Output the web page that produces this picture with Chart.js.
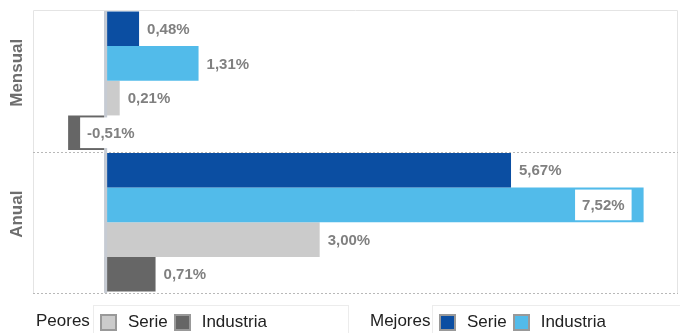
<!DOCTYPE html>
<html>
<head>
<meta charset="utf-8">
<script src="https://cdn.jsdelivr.net/npm/chart.js@4.4.0/dist/chart.umd.min.js"></script>
<style>
    body { margin: 0; background: #fff; font-family: "Liberation Sans", Arial, sans-serif; }
    #wrap { position: relative; width: 680px; height: 333px; overflow: hidden; }
    #chart { position: absolute; left: 0; top: 0; }
    .group-title { position: absolute; top: 311px; font-size: 17px; color: #222; line-height: 20px; }
    .panel { position: absolute; top: 305px; height: 40px; border: 1px solid #ececec; box-sizing: border-box; }
    .items { display: flex; align-items: center; height: 20px; margin-top: 6px; padding-left: 6px; }
    .box { width: 13px; height: 13px; border: 2px solid #999; margin-right: 11px; }
    .label { font-size: 17px; color: #222; margin-right: 6px; line-height: 20px; }
</style>
</head>
<body>
<div id="wrap">
    <canvas id="chart" width="680" height="333"></canvas>
    <div class="group-title" style="left:36px">Peores</div>
    <div class="panel" style="left:93px; width:256px"><div class="items" id="legendPeores"></div></div>
    <div class="group-title" style="left:370px">Mejores</div>
    <div class="panel" style="left:432px; width:250px"><div class="items" id="legendMejores"></div></div>
</div>
<script>
// Data
const categories = ['Mensual', 'Anual'];
const mejoresSerie = [0.48, 5.67];
const mejoresIndustria = [1.31, 7.52];
const peoresSerie = [0.21, 3.00];
const peoresIndustria = [-0.51, 0.71];
const xMin = -1;
const xMax = 8;

const colors = {
    mejoresSerie: '#0b4ea2',
    mejoresIndustria: '#52bbea',
    peoresSerie: '#cbcbcb',
    peoresIndustria: '#666666'
};

function formatValue(v) {
    return v.toFixed(2).replace('.', ',') + '%';
}

// Frame, separators and category names
const framePlugin = {
    id: 'frame',
    beforeDatasetsDraw(chart) {
        const ctx = chart.ctx;
        const a = chart.chartArea;
        const yScale = chart.scales.y;
        ctx.save();
        ctx.strokeStyle = '#e4e4e4';
        ctx.lineWidth = 1;
        ctx.beginPath();
        ctx.moveTo(a.left + 0.5, a.bottom);
        ctx.lineTo(a.left + 0.5, a.top + 0.5);
        ctx.lineTo(a.right - 0.5, a.top + 0.5);
        ctx.lineTo(a.right - 0.5, a.bottom);
        ctx.stroke();

        // dotted lines between categories and at the bottom
        ctx.strokeStyle = '#b8b8b8';
        ctx.setLineDash([2, 2]);
        const mid = (yScale.getPixelForValue(0) + yScale.getPixelForValue(1)) / 2;
        [mid, a.bottom - 0.5].forEach(y => {
            ctx.beginPath();
            ctx.moveTo(a.left, Math.round(y) + 0.5);
            ctx.lineTo(a.right, Math.round(y) + 0.5);
            ctx.stroke();
        });
        ctx.setLineDash([]);

        // category names
        ctx.fillStyle = '#6e6e6e';
        ctx.font = 'bold 17px "Liberation Sans", Arial, sans-serif';
        ctx.textAlign = 'center';
        ctx.textBaseline = 'middle';
        categories.forEach((c, i) => {
            const y = yScale.getPixelForValue(i) - 8;
            ctx.save();
            ctx.translate(17, y);
            ctx.rotate(-Math.PI / 2);
            ctx.fillText(c, 0, 0);
            ctx.restore();
        });
        ctx.restore();
    },
    afterDatasetsDraw(chart) {
        const ctx = chart.ctx;
        const a = chart.chartArea;
        const x0 = chart.scales.x.getPixelForValue(0);
        ctx.save();

        // zero line
        ctx.strokeStyle = '#c6cbd3';
        ctx.lineWidth = 3;
        ctx.beginPath();
        ctx.moveTo(x0 + 1, a.top + 1);
        ctx.lineTo(x0 + 1, a.bottom);
        ctx.stroke();

        // value labels with white box
        ctx.font = 'bold 15px "Liberation Sans", Arial, sans-serif';
        ctx.textBaseline = 'middle';
        ctx.textAlign = 'left';
        chart.data.datasets.forEach((ds, di) => {
            chart.getDatasetMeta(di).data.forEach((bar, i) => {
                const v = ds.data[i];
                const text = formatValue(v);
                const w = ctx.measureText(text).width + 14;
                const h = bar.height - 4;
                let left;
                if (v >= 0) {
                    left = bar.x + 1;
                    if (left + w > a.right - 2) left = bar.x - 12 - w;
                } else {
                    left = bar.x - 2 - w;
                    if (left < a.left) left = bar.x + 12;
                }
                ctx.fillStyle = '#ffffff';
                ctx.fillRect(left, bar.y - h / 2, w, h);
                ctx.fillStyle = '#808080';
                ctx.fillText(text, left + 7, bar.y + 1);
            });
        });
        ctx.restore();
    }
};

const datasets = [
    { label: 'Serie', group: 'Mejores', data: mejoresSerie, backgroundColor: colors.mejoresSerie },
    { label: 'Industria', group: 'Mejores', data: mejoresIndustria, backgroundColor: colors.mejoresIndustria },
    { label: 'Serie', group: 'Peores', data: peoresSerie, backgroundColor: colors.peoresSerie },
    { label: 'Industria', group: 'Peores', data: peoresIndustria, backgroundColor: colors.peoresIndustria }
];

const chart = new Chart(document.getElementById('chart').getContext('2d'), {
    type: 'bar',
    data: {
        labels: categories,
        datasets: datasets.map(d => ({
            label: d.label,
            data: d.data,
            backgroundColor: d.backgroundColor,
            borderWidth: 0,
            barPercentage: 1,
            categoryPercentage: 0.98
        }))
    },
    options: {
        indexAxis: 'y',
        responsive: false,
        animation: false,
        layout: {
            padding: { left: 33, top: 10, right: 2, bottom: 40 }
        },
        plugins: {
            legend: { display: false },
            tooltip: { enabled: false }
        },
        scales: {
            x: { display: false, min: xMin, max: xMax },
            y: { display: false }
        }
    },
    plugins: [framePlugin]
});

// HTML legend built from the datasets
function buildLegend(group, elId) {
    const el = document.getElementById(elId);
    datasets.filter(d => d.group === group).forEach(d => {
        const box = document.createElement('span');
        box.className = 'box';
        box.style.background = d.backgroundColor;
        const label = document.createElement('span');
        label.className = 'label';
        label.textContent = d.label;
        el.appendChild(box);
        el.appendChild(label);
    });
}
buildLegend('Peores', 'legendPeores');
buildLegend('Mejores', 'legendMejores');
</script>
</body>
</html>
